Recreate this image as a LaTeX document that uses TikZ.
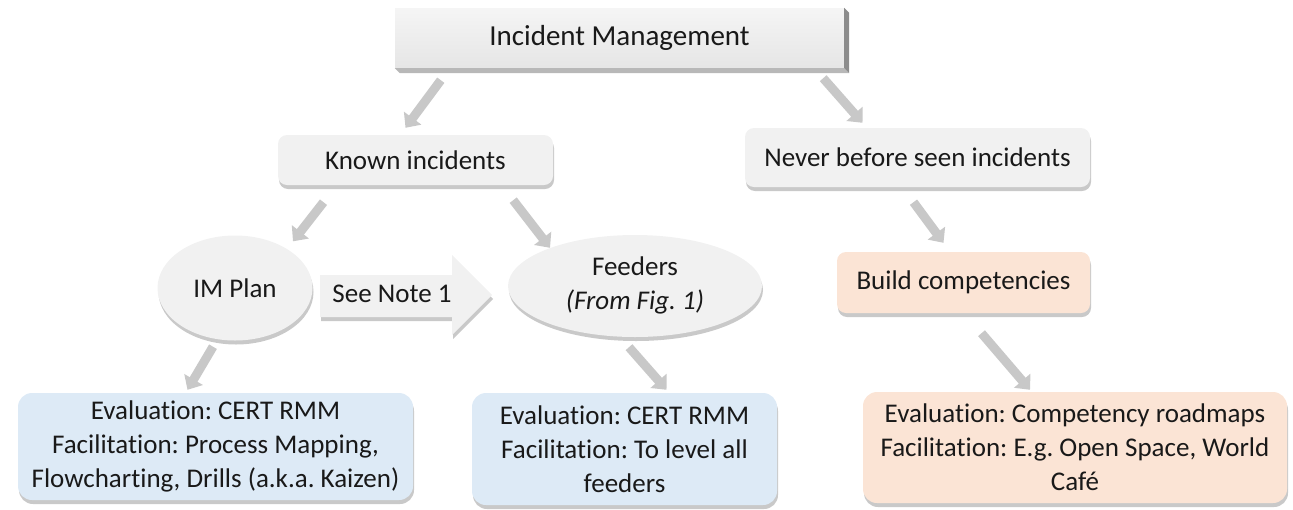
\documentclass[tikz,border=0pt]{standalone}
\usepackage{fontspec}
\setmainfont{Carlito}[Ligatures=NoCommon]
\usetikzlibrary{shadows,arrows.meta,calc,shapes.geometric}
\definecolor{boxgray}{RGB}{241,241,241}
\definecolor{boxblue}{RGB}{221,234,246}
\definecolor{boxpeach}{RGB}{251,228,213}
\definecolor{conncol}{RGB}{200,200,200}
\definecolor{txt}{RGB}{25,25,25}
\frenchspacing
\begin{document}
\begin{tikzpicture}[x=1pt,y=-1pt,
  shad/.style={drop shadow={shadow xshift=1pt,shadow yshift=-4pt,opacity=0.3,fill=black!70}},
  basefont/.style={font=\fontsize{27}{34}\selectfont},
  box/.style={rectangle, rounded corners=9pt, fill=boxgray, shad, inner sep=0pt, text=txt, basefont, align=center},
  bigbox/.style={box, rounded corners=14pt},
  ell/.style={ellipse, fill=boxgray, shad, inner sep=0pt, text=txt, basefont, align=center},
  connector/.style={draw=conncol, line width=9pt, -{Triangle[width=21pt,length=12pt]}}
]
\useasboundingbox (0,0) rectangle (1293,509);

% top box with bevel
\node[rectangle, inner sep=0pt, minimum width=449pt, minimum height=60pt,
      top color=white!96!black, bottom color=white!90!black, text=txt,
      font=\fontsize{29}{34}\selectfont] (top) at (619.5,38) {Incident Management};
\fill[black!28] (top.south west) -- (top.south east) -- ++(5,5) -- ([xshift=5pt,yshift=-5pt]top.south west) -- cycle;
\fill[black!45] (top.north east) -- ++(5,5) -- ([xshift=5pt,yshift=-5pt]top.south east) -- (top.south east) -- cycle;

% second level
\node[box, minimum width=275pt, minimum height=50pt] (known) at (415.5,160) {Known incidents};
\node[box, minimum width=345pt, minimum height=59pt] (never) at (917.5,157.5) {Never before seen incidents};

% third level
\node[ell, minimum width=155pt, minimum height=105pt] (im) at (235,288) {\raisebox{-4pt}{IM Plan}};
\node[ell, minimum width=254pt, minimum height=102pt] (feed) at (635,286) {\raisebox{-3pt}{\begin{tabular}{@{}c@{}}Feeders\\\itshape (From Fig. 1)\end{tabular}}};
\node[box, fill=boxpeach, minimum width=253pt, minimum height=61pt] (build) at (963.5,282.5) {Build competencies};

% see note arrow
\fill[boxgray, shad] (320,275) -- (452,275) -- (452,255) -- (492,295) -- (452,335) -- (452,317) -- (320,317) -- cycle;
\node[text=txt, basefont, inner sep=0pt] (note) at (392,294) {See Note 1};

% bottom level
\node[bigbox, fill=boxblue, minimum width=395pt, minimum height=107pt] (left) at (215.5,446.5)
  {Evaluation: CERT RMM\\Facilitation: Process Mapping,\\Flowcharting, Drills (a.k.a. Kaizen)};
\node[bigbox, fill=boxblue, minimum width=305pt, minimum height=112pt] (mid) at (624.5,449)
  {Evaluation: CERT RMM\\Facilitation: To level all\\feeders};
\node[bigbox, fill=boxpeach, minimum width=424pt, minimum height=111pt] (right) at (1075,447.5)
  {Evaluation: Competency roadmaps\\Facilitation: E.g. Open Space, World\\Café};

% connectors
\draw[connector] ([xshift=46pt,yshift=-12pt]top.south west) -- ([xshift=-10pt,yshift=7pt]known.north);
\draw[connector] ([xshift=-21pt,yshift=-10pt]top.south east) -- ([xshift=-55pt,yshift=5pt]never.north);
\draw[connector] ([xshift=-92pt,yshift=-17pt]known.south) -- ([xshift=58pt,yshift=-6pt]im.north);
\draw[connector] ([xshift=-40pt,yshift=-15pt]known.south east) -- ([xshift=-85pt,yshift=-13pt]feed.north);
\draw[connector] ([xshift=-4pt,yshift=-15pt]never.south) -- ([xshift=-20pt,yshift=9pt]build.north);
\draw[connector] ([xshift=-22pt,yshift=-6pt]im.south) -- ([xshift=-28pt,yshift=3pt]left.north);
\draw[connector] ([xshift=-6pt,yshift=-10pt]feed.south) -- ([xshift=42pt,yshift=3pt]mid.north);
\draw[connector] ([xshift=18pt,yshift=-20pt]build.south) -- ([xshift=-45pt,yshift=2pt]right.north);
\end{tikzpicture}
\end{document}
